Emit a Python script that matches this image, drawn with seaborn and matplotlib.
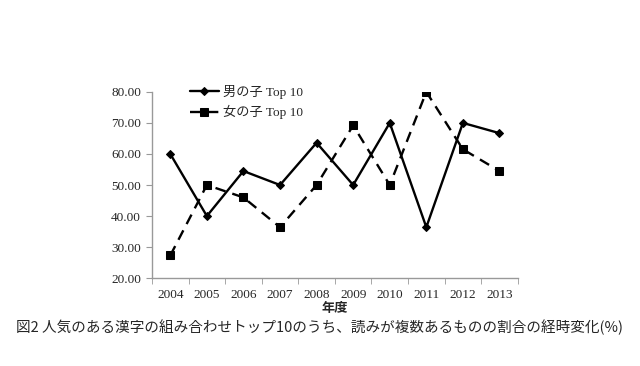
import numpy as np
import pandas as pd
import matplotlib
matplotlib.use("Agg")
import matplotlib.pyplot as plt
import seaborn as sns

years = ["2004", "2005", "2006", "2007", "2008", "2009", "2010", "2011", "2012", "2013"]
boys = [60.0, 40.0, 54.5, 50.0, 63.6, 50.0, 70.0, 36.4, 70.0, 66.7]
girls = [27.3, 50.0, 46.0, 36.4, 50.0, 69.2, 50.0, 80.0, 61.5, 54.5]
series_names = ["男の子 Top 10", "女の子 Top 10"]
y_ticks = [20, 30, 40, 50, 60, 70, 80]
xlabel = "年度"
caption = "図2 人気のある漢字の組み合わせトップ10のうち、読みが複数あるものの割合の経時変化(%)"

sns.set_style("white")
plt.rcParams['font.family'] = ['Liberation Serif', 'Noto Sans CJK JP']

df = pd.DataFrame({
    "pos": list(range(len(years))) * 2,
    "value": boys + girls,
    "series": [series_names[0]] * len(years) + [series_names[1]] * len(years),
})

fig = plt.figure(figsize=(6.4, 3.66), dpi=100)
ax = fig.add_axes([0.2375, 0.240, 0.5715, 0.509])

sns.lineplot(data=df[df.series == series_names[0]], x="pos", y="value", ax=ax,
             color="black", linewidth=1.7, marker="D", markersize=4.5,
             markeredgecolor="black", label=series_names[0])
sns.lineplot(data=df[df.series == series_names[1]], x="pos", y="value", ax=ax,
             color="black", linewidth=1.7, linestyle=(0, (4.5, 3)), marker="s", markersize=5.5,
             markeredgecolor="black", label=series_names[1])

ax.set_xlim(-0.5, len(years) - 0.5)
ax.set_ylim(20, 80)
ax.set_yticks(y_ticks)
ax.set_yticklabels([f"{v:.2f}" for v in y_ticks], fontsize=9.5)
ax.set_xticks(range(len(years)))
ax.set_xticklabels(years, fontsize=9.5)
ax.set_xticks(np.arange(-0.5, len(years), 1.0), minor=True)
ax.tick_params(axis="x", which="major", length=0, pad=8)
ax.tick_params(axis="x", which="minor", length=4, color="#999999", direction="out", bottom=True)
ax.tick_params(axis="y", length=4, color="#999999", direction="out", left=True, pad=4)

for s in ["top", "right"]:
    ax.spines[s].set_visible(False)
for s in ["left", "bottom"]:
    ax.spines[s].set_color("#999999")
    ax.spines[s].set_linewidth(1)

ax.set_xlabel(xlabel, fontsize=9.5, fontweight="bold", family=['Noto Sans CJK JP'], labelpad=0)
ax.set_ylabel("")

leg = ax.legend(loc="upper left", bbox_to_anchor=(0.071, 1.10), frameon=False,
                handlelength=2.2, labelspacing=0.45, handletextpad=0.3,
                prop={'family': ['Liberation Serif', 'Noto Sans CJK JP'], 'size': 9.5})

fig.text(0.5, 0.105, caption, ha="center", va="center", fontsize=10.5,
         family=['Noto Sans CJK JP'])

fig.savefig("out.png", dpi=100, facecolor="white")
